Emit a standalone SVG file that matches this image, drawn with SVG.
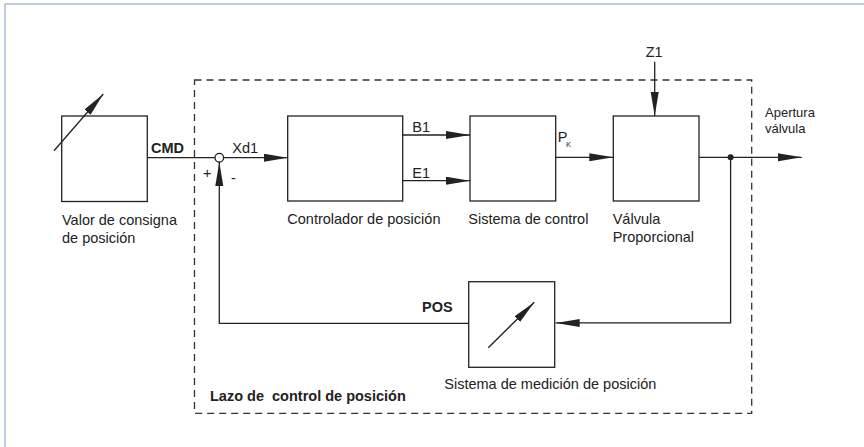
<svg xmlns="http://www.w3.org/2000/svg" width="864" height="447" viewBox="0 0 864 447">
<defs>
<style>
.box{fill:#fff;stroke:#222;stroke-width:1.3}
.ln{fill:none;stroke:#222;stroke-width:1.3}
.t{font-family:"Liberation Sans",Arial,sans-serif;font-size:14.5px;fill:#222}
.b{font-weight:bold}
.s{font-size:13px}
.sub{font-size:7.5px}
</style>
<marker id="ah" markerUnits="userSpaceOnUse" markerWidth="26" markerHeight="10" refX="24" refY="4" orient="auto">
<path d="M0,0 L24,4 L0,8 Z" fill="#222"/>
</marker>
</defs>
<rect width="864" height="447" fill="#fff"/>
<rect x="5" y="4" width="900" height="500" fill="none" stroke="#9bb3da" stroke-width="1.3"/>
<g id="loop">
<rect x="194.5" y="80" width="557.2" height="333.3" fill="none" stroke="#333" stroke-width="1.3" stroke-dasharray="7 5"/>
<text class="t b" x="210" y="400.7" xml:space="preserve">Lazo de  control de posición</text>
</g>
<g id="setpoint">
<rect class="box" x="61.7" y="116" width="85.6" height="85.5"/>
<line class="ln" x1="54" y1="150.7" x2="103.3" y2="94" marker-end="url(#ah)"/>
<text class="t" x="62" y="225">Valor de consigna</text>
<text class="t" x="62" y="243">de posición</text>
</g>
<g id="sum">
<circle cx="219.3" cy="157.7" r="4.3" fill="#fff" stroke="#222" stroke-width="1.3"/>
<text class="t" x="203" y="178">+</text>
<text class="t" x="231" y="183">-</text>
</g>
<g id="controller">
<rect class="box" x="287.7" y="116" width="115" height="85"/>
<text class="t" x="287.3" y="223.5">Controlador de posición</text>
</g>
<g id="control-system">
<rect class="box" x="470" y="116" width="85.7" height="85"/>
<text class="t" x="468.3" y="223.5">Sistema de control</text>
</g>
<g id="valve">
<rect class="box" x="613.3" y="116" width="85.7" height="85"/>
<text class="t" x="612.7" y="223.5">Válvula</text>
<text class="t" x="612.7" y="241.7">Proporcional</text>
</g>
<g id="measurement">
<rect class="box" x="468.7" y="281.7" width="86" height="85.6"/>
<line class="ln" x1="488.3" y1="347.7" x2="534.3" y2="302.3" marker-end="url(#ah)"/>
<text class="t" x="444.3" y="389">Sistema de medición de posición</text>
</g>
<g id="connectors">
<line class="ln" x1="147.3" y1="157.7" x2="215" y2="157.7"/>
<line class="ln" x1="223.6" y1="157.7" x2="287.7" y2="157.7" marker-end="url(#ah)"/>
<line class="ln" x1="402.7" y1="135" x2="470" y2="135" marker-end="url(#ah)"/>
<line class="ln" x1="402.7" y1="180.7" x2="470" y2="180.7" marker-end="url(#ah)"/>
<line class="ln" x1="555.7" y1="157.3" x2="613.3" y2="157.3" marker-end="url(#ah)"/>
<line class="ln" x1="654.7" y1="61.7" x2="654.7" y2="116" marker-end="url(#ah)"/>
<line class="ln" x1="699" y1="157.3" x2="801.7" y2="157.3" marker-end="url(#ah)"/>
<circle cx="730.6" cy="157.3" r="3" fill="#222"/>
<polyline class="ln" points="730.6,157.3 730.6,322.9 555.7,322.9" marker-end="url(#ah)"/>
<polyline class="ln" points="468.7,323.3 219.3,323.3 219.3,162" marker-end="url(#ah)"/>
<text class="t b" x="151" y="152.5">CMD</text>
<text class="t" x="232.3" y="152.5">Xd1</text>
<text class="t" x="412.3" y="131.7">B1</text>
<text class="t" x="412.3" y="177.7">E1</text>
<text class="t" x="557.7" y="141.7">P</text>
<text class="t sub" x="566" y="147.3">K</text>
<text class="t" x="645.7" y="56.7">Z1</text>
<text class="t s" x="765" y="117">Apertura</text>
<text class="t s" x="765" y="133">válvula</text>
<text class="t b" x="422" y="312">POS</text>
</g>
</svg>
